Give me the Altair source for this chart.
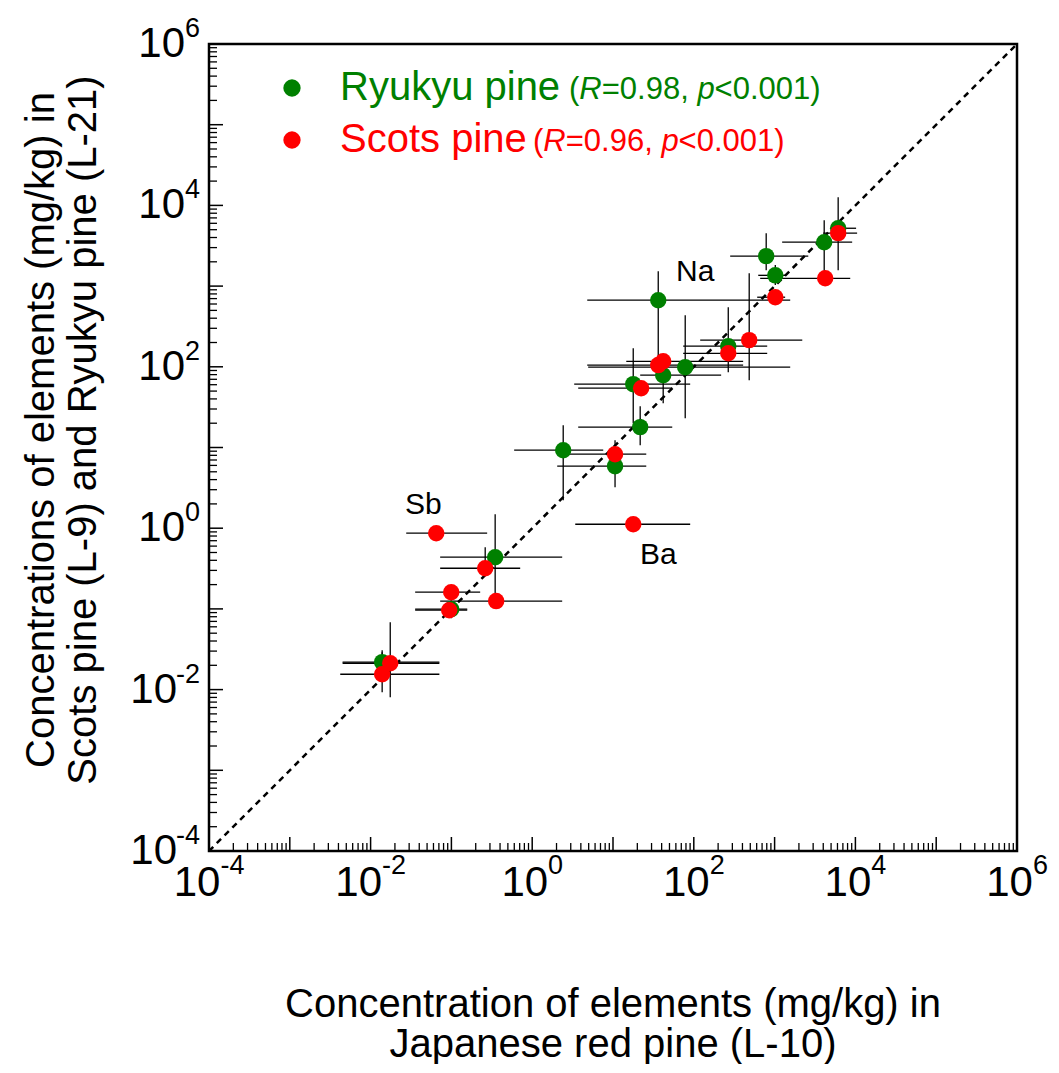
import altair as alt
import pandas as pd

W, H = 808, 807
FONT = "Liberation Sans"
GREEN = "#008000"
RED = "#ff0000"

# ---------------- data ----------------
# Ryukyu pine (L-21) vs Japanese red pine (L-10)
ry_x   = [0.0139, 0.0995, 0.348, 2.42, 10.6, 21.7, 17.8, 41.8, 78.3, 36.3, 267, 787, 1020, 4110, 6120]
ry_y   = [0.0219, 0.0991, 0.437, 9.26, 5.87, 17.9, 60.9, 78.7, 98.9, 669, 180, 2350, 1360, 3500, 5210]
ry_xlo = [0.0045, 0.0356, 0.0726, 0.598, 2.04, 3.71, 3.31, 21.7, 4.93, 4.80, 73.9, 282, 627, 1240, 4880]
ry_xhi = [0.071, 0.157, 2.35, 7.57, 25.8, 54.1, 90.2, 218, 1560, 1560, 810, 2610, 1350, 9120, 10200]
ry_ylo = [0.0164, 0.0767, 0.128, 2.22, 3.22, 10.7, 20.0, 35.4, 23.1, 121, 85.7, 1570, 1030, 1250, 1570]
ry_yhi = [0.029, 0.128, 1.49, 18.9, 12.3, 32.5, 170, 121, 436, 1530, 548, 4530, 1820, 6560, 12600]

# Scots pine (L-9) vs Japanese red pine (L-10)
sc_x   = [0.0175, 0.0139, 0.0995, 0.0939, 0.358, 0.262, 0.0649, 17.8, 10.6, 22.3, 36.3, 41.8, 267, 485, 1020, 4230, 6120]
sc_y   = [0.0212, 0.0155, 0.161, 0.0964, 0.125, 0.319, 0.867, 1.12, 8.26, 54.3, 105, 117, 147, 214, 728, 1250, 4530]
sc_xlo = [0.0045, 0.00421, 0.0356, 0.0356, 0.0726, 0.0726, 0.0276, 3.41, 2.71, 3.71, 4.80, 14.6, 73.9, 120, 609, 663, 3990]
sc_xhi = [0.071, 0.071, 0.227, 0.157, 2.35, 0.710, 0.277, 90.2, 25.8, 54.1, 408, 408, 810, 2200, 1350, 8630, 10500]
sc_ylo = [0.00805, 0.00929, 0.161, 0.0964, 0.125, 0.262, 0.867, 1.12, 8.26, 54.3, 105, 117, 147, 68.2, 728, 1250, 4530]
sc_yhi = [0.0684, 0.0308, 0.161, 0.0964, 0.125, 0.582, 0.867, 1.12, 8.26, 54.3, 105, 117, 147, 1445, 728, 1250, 4530]

# element annotations
ann_names = ["Na", "Sb", "Ba"]
ann_x = [104, 0.0448, 36.3]
ann_y = [1490, 1.93, 0.463]

# axis ticks / labels
major_ticks = [1e-4, 1e-3, 1e-2, 1e-1, 1e0, 1e1, 1e2, 1e3, 1e4, 1e5, 1e6]
minor_mult = [2, 3, 4, 5, 6, 7, 8, 9]
minor_ticks = [m * d for d in major_ticks[:-1] for m in minor_mult]
label_vals = [1e-4, 1e-2, 1e0, 1e2, 1e4, 1e6]
label_exps = ["-4", "-2", "0", "2", "4", "6"]

diag = [1e-4, 1e6]

# ---------------- frames ----------------
ry = pd.DataFrame({"x": ry_x, "y": ry_y, "xlo": ry_xlo, "xhi": ry_xhi, "ylo": ry_ylo, "yhi": ry_yhi})
sc = pd.DataFrame({"x": sc_x, "y": sc_y, "xlo": sc_xlo, "xhi": sc_xhi, "ylo": sc_ylo, "yhi": sc_yhi})
allpts = pd.concat([ry, sc], ignore_index=True)
ann = pd.DataFrame({"name": ann_names, "x": ann_x, "y": ann_y})
maj = pd.DataFrame({"v": major_ticks})
mnr = pd.DataFrame({"v": minor_ticks})
lab = pd.DataFrame({"v": label_vals, "base": ["10"] * len(label_vals), "exp": label_exps})
dg = pd.DataFrame({"v": diag})

xs = alt.Scale(type="log", domain=[1e-4, 1e6], nice=False)
ys = alt.Scale(type="log", domain=[1e-4, 1e6], nice=False)
X = lambda f: alt.X(f, scale=xs, axis=None)
Y = lambda f: alt.Y(f, scale=ys, axis=None)

one = pd.DataFrame({"a": [0]})

layers = []

# diagonal 1:1 line
layers.append(alt.Chart(dg).mark_line(color="black", strokeWidth=2.5, strokeDash=[6, 5]).encode(
    x=X("v:Q"), y=Y("v:Q")))

# error bars
layers.append(alt.Chart(allpts).mark_rule(color="black", strokeWidth=1.3).encode(
    x=X("xlo:Q"), x2="xhi:Q", y=Y("y:Q")))
layers.append(alt.Chart(allpts).mark_rule(color="black", strokeWidth=1.3).encode(
    x=X("x:Q"), y=Y("ylo:Q"), y2="yhi:Q"))

# points
layers.append(alt.Chart(ry).mark_circle(size=270, opacity=1, color=GREEN).encode(x=X("x:Q"), y=Y("y:Q")))
layers.append(alt.Chart(sc).mark_circle(size=270, opacity=1, color=RED).encode(x=X("x:Q"), y=Y("y:Q")))

# annotations
layers.append(alt.Chart(ann).mark_text(font=FONT, fontSize=30, color="black", align="center", baseline="middle").encode(
    x=X("x:Q"), y=Y("y:Q"), text="name:N"))

# ticks (inward, left & bottom)
layers.append(alt.Chart(maj).mark_rule(color="black", strokeWidth=1.5).encode(
    x=X("v:Q"), y=alt.value(H), y2=alt.value(H - 14)))
layers.append(alt.Chart(mnr).mark_rule(color="black", strokeWidth=1.3).encode(
    x=X("v:Q"), y=alt.value(H), y2=alt.value(H - 8)))
layers.append(alt.Chart(maj).mark_rule(color="black", strokeWidth=1.5).encode(
    y=Y("v:Q"), x=alt.value(0), x2=alt.value(14)))
layers.append(alt.Chart(mnr).mark_rule(color="black", strokeWidth=1.3).encode(
    y=Y("v:Q"), x=alt.value(0), x2=alt.value(8)))

# x tick labels (whole "10^n" centred on tick)
for cond, off in [("datum.v >= 1", 15.9), ("datum.v < 1", 11.4)]:
    layers.append(alt.Chart(lab).transform_filter(cond).mark_text(
        font=FONT, fontSize=42, align="right", baseline="middle", dx=off).encode(
        x=X("v:Q"), y=alt.value(H + 32), text="base:N"))
    layers.append(alt.Chart(lab).transform_filter(cond).mark_text(
        font=FONT, fontSize=27, align="left", baseline="middle", dx=off).encode(
        x=X("v:Q"), y=alt.value(H + 15), text="exp:N"))

# y tick labels
layers.append(alt.Chart(lab).mark_text(font=FONT, fontSize=27, align="right", baseline="middle", dy=-15).encode(
    y=Y("v:Q"), x=alt.value(-9), text="exp:N"))
layers.append(alt.Chart(lab).transform_filter("datum.v >= 1").mark_text(font=FONT, fontSize=42, align="right", baseline="middle").encode(
    y=Y("v:Q"), x=alt.value(-24), text="base:N"))
layers.append(alt.Chart(lab).transform_filter("datum.v < 1").mark_text(font=FONT, fontSize=42, align="right", baseline="middle").encode(
    y=Y("v:Q"), x=alt.value(-32), text="base:N"))

# axis titles
def txt(s, x, y, size=40, color="black", align="center", angle=0, style="normal"):
    kw = dict(font=FONT, fontSize=size, color=color, align=align, baseline="middle", fontStyle=style)
    if angle:
        kw["angle"] = angle
    return alt.Chart(pd.DataFrame({"t": [s]})).mark_text(**kw).encode(
        x=alt.value(x), y=alt.value(y), text="t:N")

layers.append(txt("Concentration of elements (mg/kg) in", W / 2, H + 154))
layers.append(txt("Japanese red pine (L-10)", W / 2, H + 194))
layers.append(txt("Concentrations of elements (mg/kg) in", -167, 386, angle=270))
layers.append(txt("Scots pine (L-9) and Ryukyu pine (L-21)", -125, 386, angle=270))

# legend
layers.append(alt.Chart(one).mark_circle(size=300, opacity=1, color=GREEN).encode(x=alt.value(83), y=alt.value(44)))
layers.append(alt.Chart(one).mark_circle(size=300, opacity=1, color=RED).encode(x=alt.value(83), y=alt.value(96)))
layers.append(txt("Ryukyu pine", 131, 44, size=40, color=GREEN, align="left"))
layers.append(txt("Scots pine", 131, 96, size=40, color=RED, align="left"))

def stats(x0, y, r, color):
    out = []
    segs = [("(", "normal", 0), ("R", "italic", 10.3), ("=" + r + ", ", "normal", 32.7),
            ("p", "italic", 128.4), ("<0.001)", "normal", 145.6)]
    for s, st, off in segs:
        out.append(txt(s, x0 + off, y + 2, size=31, color=color, align="left", style=st))
    return out

layers += stats(360, 44, "0.98", GREEN)
layers += stats(324, 96, "0.96", RED)

chart = alt.layer(*layers).properties(
    width=W, height=H, autosize="none",
    padding={"left": 201, "top": 36, "right": 34, "bottom": 213},
).configure_view(stroke="black", strokeWidth=2.5).configure_text(font=FONT)

chart.save("out.html", embed_options={"renderer": "svg", "actions": False})
